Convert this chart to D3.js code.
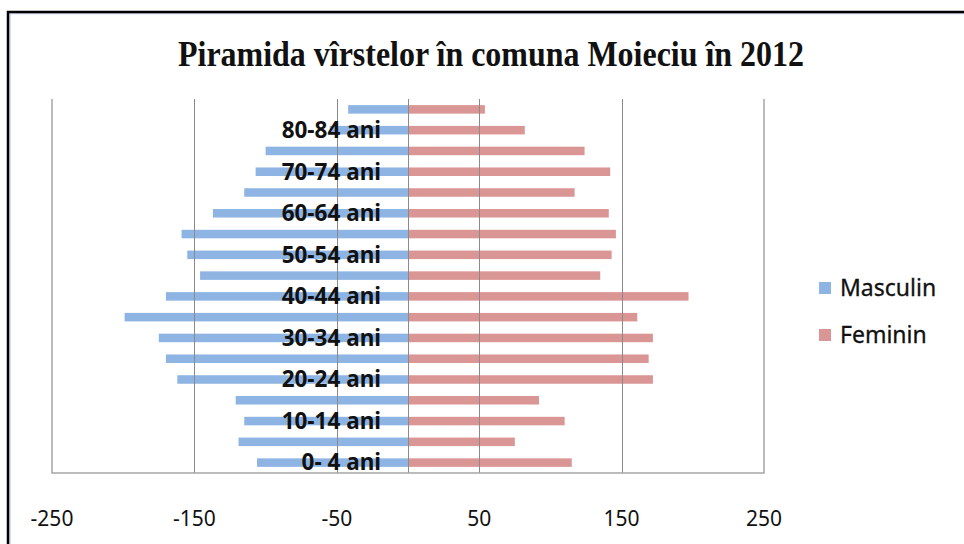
<!DOCTYPE html>
<html lang="ro">
<head>
    <meta charset="UTF-8">
    <title>Piramida vîrstelor</title>
    <script src="https://cdn.jsdelivr.net/npm/d3@7"></script>
    <style>
        body { margin: 0; background: #fff; }
        text { font-family: 'Noto Sans', sans-serif; fill: #111; }
        .title { font-family: 'Liberation Serif', 'DejaVu Serif', serif; font-weight: bold; font-size: 36px; }
        .grid { stroke: #8a8a8a; stroke-width: 1px; }
        .frame { stroke: #a6a6a6; stroke-width: 1.5px; fill: none; }
        .ageLabel { font-weight: bold; font-size: 22.5px; }
        .tick { font-size: 21px; }
        .legend { font-size: 23px; stroke: #111; stroke-width: 0.3px; }
    </style>
</head>
<body>
<script>

    const width = 964;
    const height = 544;

    // age groups, bottom to top
    const ages = ['0- 4 ani', '5-9 ani', '10-14 ani', '15-19 ani', '20-24 ani', '25-29 ani', '30-34 ani',
        '35-39 ani', '40-44 ani', '45-49 ani', '50-54 ani', '55-59 ani', '60-64 ani', '65-69 ani',
        '70-74 ani', '75-79 ani', '80-84 ani', '85+ ani'];
    // males shown as negative values
    const masculin = [-106, -119, -115, -121, -162, -170, -175, -199, -170, -146, -155, -159, -137, -115, -107, -100, -55, -42];
    const feminin = [115, 75, 110, 92, 172, 169, 172, 161, 197, 135, 143, 146, 141, 117, 142, 124, 82, 54];
    const ticks = [-250, -150, -50, 50, 150, 250];
    const seriesNames = ['Masculin', 'Feminin'];
    const colours = ['#8eb4e3', '#da9694'];

    const plot = {left: 52, right: 764, top: 99, bottom: 473};

    let svg = d3.select('body').append('svg')
        .attr('width', width)
        .attr('height', height);

    // outer chart frame (runs off the right and bottom edges)
    svg.append('rect')
        .attr('x', 10).attr('y', 13.5)
        .attr('width', 1000).attr('height', 600)
        .style('fill', 'none').style('stroke', '#c5d5ea').style('stroke-width', 1.5);
    svg.append('rect')
        .attr('x', 8).attr('y', 12)
        .attr('width', 1000).attr('height', 600)
        .style('fill', 'none').style('stroke', '#000').style('stroke-width', 2.5);

    svg.append('text')
        .attr('class', 'title')
        .attr('x', 491)
        .attr('y', 66)
        .attr('text-anchor', 'middle')
        .attr('textLength', 626)
        .attr('lengthAdjust', 'spacingAndGlyphs')
        .text('Piramida vîrstelor în comuna Moieciu în 2012');

    let x = d3.scaleLinear()
        .domain([-250, 250])
        .range([plot.left, plot.right]);

    let y = d3.scaleBand()
        .domain(ages.slice().reverse())
        .range([plot.top, plot.bottom])
        .paddingInner(0.59)
        .paddingOuter(0.295);

    let bars = svg.append('g');

    bars.selectAll('.male')
        .data(ages)
        .enter().append('rect')
        .attr('x', (d, i) => x(masculin[i]))
        .attr('y', d => y(d))
        .attr('width', (d, i) => x(0) - x(masculin[i]))
        .attr('height', y.bandwidth())
        .style('fill', colours[0]);

    bars.selectAll('.female')
        .data(ages)
        .enter().append('rect')
        .attr('x', x(0))
        .attr('y', d => y(d))
        .attr('width', (d, i) => x(feminin[i]) - x(0))
        .attr('height', y.bandwidth())
        .style('fill', colours[1]);

    // gridlines sit on top of the bars, like in the original
    svg.append('g').selectAll('line')
        .data(ticks.slice(1, -1).concat([0]))
        .enter().append('line')
        .attr('class', 'grid')
        .attr('x1', d => Math.round(x(d)) + 0.5)
        .attr('x2', d => Math.round(x(d)) + 0.5)
        .attr('y1', plot.top)
        .attr('y2', plot.bottom);

    svg.append('path')
        .attr('class', 'frame')
        .attr('d', 'M' + x(-250) + ',' + plot.top + 'V' + plot.bottom + 'H' + x(250) + 'V' + plot.top);

    // age labels, every other group
    svg.append('g').selectAll('text')
        .data(ages.filter((d, i) => i % 2 === 0))
        .enter().append('text')
        .attr('class', 'ageLabel')
        .attr('x', 381)
        .attr('y', d => y(d) + y.bandwidth() / 2)
        .attr('dy', '0.35em')
        .attr('text-anchor', 'end')
        .text(d => d);

    svg.append('g').selectAll('text')
        .data(ticks)
        .enter().append('text')
        .attr('class', 'tick')
        .attr('x', d => x(d))
        .attr('y', 526)
        .attr('text-anchor', 'middle')
        .text(d => d);

    let legend = svg.append('g');
    seriesNames.forEach(function(name, i) {
        legend.append('rect')
            .attr('x', 819)
            .attr('y', 282 + 47 * i)
            .attr('width', 12)
            .attr('height', 12)
            .style('fill', colours[i]);
        legend.append('text')
            .attr('class', 'legend')
            .attr('x', 840)
            .attr('y', 288 + 47 * i)
            .attr('dy', '0.35em')
            .text(name);
    });

</script>
</body>
</html>
